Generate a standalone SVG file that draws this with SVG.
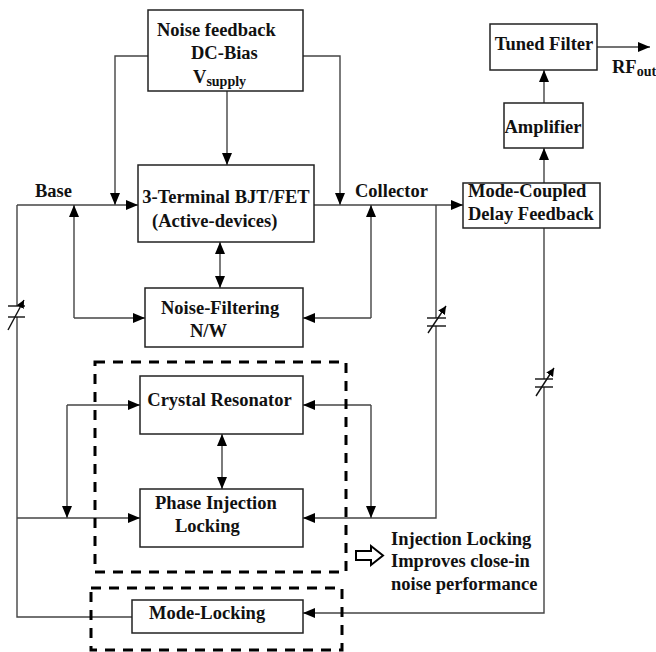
<svg xmlns="http://www.w3.org/2000/svg" width="656" height="652" viewBox="0 0 656 652">
<defs>
<marker id="ah" markerUnits="userSpaceOnUse" markerWidth="13" markerHeight="11" refX="12" refY="5" orient="auto">
<path d="M0,0 L12,5 L0,10 z" fill="#000"/>
</marker>
<marker id="ahs" markerUnits="userSpaceOnUse" markerWidth="13" markerHeight="11" refX="0" refY="5" orient="auto">
<path d="M12,0 L0,5 L12,10 z" fill="#000"/>
</marker>
<marker id="small" markerUnits="userSpaceOnUse" markerWidth="10" markerHeight="9" refX="8" refY="4" orient="auto">
<path d="M0,0 L8,4 L0,8 z" fill="#000"/>
</marker>
</defs>
<style>
.box{fill:#fff;stroke:#222;stroke-width:1.5}
.t{font-family:"Liberation Serif","Times New Roman",serif;font-weight:bold;font-size:18.5px;fill:#111}
.sub{font-size:14px}
.c{fill:none;stroke:#444;stroke-width:1.4}
.plate{stroke:#111;stroke-width:1.4}
.dash{fill:none;stroke:#000;stroke-width:3;stroke-dasharray:10 8}
</style>
<rect width="656" height="652" fill="#fff"/>

<g id="connectors">
<path class="c" d="M148,56 H115 V205" marker-end="url(#ah)"/>
<path class="c" d="M227,91 V165" marker-end="url(#ah)"/>
<path class="c" d="M303,56 H340 V205" marker-end="url(#ah)"/>
<path class="c" d="M17,205 H138" marker-end="url(#ah)"/>
<path class="c" d="M74,318 V205" marker-end="url(#ah)"/>
<path class="c" d="M74,318 H145" marker-end="url(#ah)"/>
<path class="c" d="M220,242 V288" marker-start="url(#ahs)" marker-end="url(#ah)"/>
<path class="c" d="M314,205 H463" marker-end="url(#ah)"/>
<path class="c" d="M371,318 V205" marker-end="url(#ah)"/>
<path class="c" d="M371,318 H303" marker-end="url(#ah)"/>
<path class="c" d="M436,205 V318"/>
<path class="c" d="M436,326 V518 H303" marker-end="url(#ah)"/>
<path class="c" d="M67,405 H140" marker-end="url(#ah)"/>
<path class="c" d="M67,405 V518" marker-end="url(#ah)"/>
<path class="c" d="M17,205 V306"/>
<path class="c" d="M17,317 V617 H132"/>
<path class="c" d="M17,518 H140" marker-end="url(#ah)"/>
<path class="c" d="M371,405 H303" marker-end="url(#ah)"/>
<path class="c" d="M371,405 V518" marker-end="url(#ah)"/>
<path class="c" d="M222,434 V489" marker-start="url(#ahs)" marker-end="url(#ah)"/>
<path class="c" d="M544,228 V379"/>
<path class="c" d="M544,387 V613 H303" marker-end="url(#ah)"/>
<path class="c" d="M544,183 V148" marker-end="url(#ah)"/>
<path class="c" d="M544,103 V70" marker-end="url(#ah)"/>
<path class="c" d="M597,47 H650" marker-end="url(#ah)"/>
</g>

<g id="capacitors">
<line class="plate" x1="8" y1="306" x2="25" y2="306"/>
<line class="plate" x1="8" y1="317" x2="25" y2="317"/>
<line class="plate" x1="8" y1="330" x2="24" y2="300" marker-end="url(#small)"/>
<line class="plate" x1="427" y1="318" x2="446" y2="318"/>
<line class="plate" x1="427" y1="326" x2="446" y2="326"/>
<line class="plate" x1="428" y1="333" x2="446" y2="306" marker-end="url(#small)"/>
<line class="plate" x1="535" y1="379" x2="553" y2="379"/>
<line class="plate" x1="535" y1="387" x2="553" y2="387"/>
<line class="plate" x1="536" y1="396" x2="554" y2="368" marker-end="url(#small)"/>
</g>

<g id="groups">
<rect class="dash" x="95" y="362" width="251" height="210"/>
<rect class="dash" x="91" y="588" width="251" height="62"/>
</g>

<g id="noise-feedback">
<rect class="box" x="148" y="10" width="155" height="81"/>
<text class="t" x="157" y="36">Noise feedback</text>
<text class="t" x="191" y="59">DC-Bias</text>
<text class="t" x="193" y="83">V<tspan class="sub" dy="3">supply</tspan></text>
</g>

<g id="bjt">
<rect class="box" x="138" y="165" width="176" height="77"/>
<text class="t" x="226" y="203" text-anchor="middle">3-Terminal BJT/FET</text>
<text class="t" x="152" y="227">(Active-devices)</text>
</g>

<g id="noise-filtering">
<rect class="box" x="145" y="288" width="158" height="59"/>
<text class="t" x="161" y="314">Noise-Filtering</text>
<text class="t" x="190" y="337">N/W</text>
</g>

<g id="crystal">
<rect class="box" x="140" y="376" width="163" height="58"/>
<text class="t" x="219.5" y="406" text-anchor="middle">Crystal Resonator</text>
</g>

<g id="phase-injection">
<rect class="box" x="140" y="489" width="163" height="58"/>
<text class="t" x="155" y="509">Phase Injection</text>
<text class="t" x="175" y="532">Locking</text>
</g>

<g id="mode-locking">
<rect class="box" x="132" y="600" width="171" height="33"/>
<text class="t" x="149" y="619">Mode-Locking</text>
</g>

<g id="mode-coupled">
<rect class="box" x="463" y="183" width="137" height="45"/>
<text class="t" x="468" y="197">Mode-Coupled</text>
<text class="t" x="468" y="220">Delay Feedback</text>
</g>

<g id="amplifier">
<rect class="box" x="504" y="103" width="79" height="45"/>
<text class="t" x="543" y="133" text-anchor="middle">Amplifier</text>
</g>

<g id="tuned-filter">
<rect class="box" x="490" y="24" width="107" height="46"/>
<text class="t" x="544" y="50" text-anchor="middle">Tuned Filter</text>
</g>

<g id="labels">
<text class="t" x="35" y="197">Base</text>
<text class="t" x="355" y="197">Collector</text>
<text class="t" x="612" y="73">RF<tspan class="sub" dy="3">out</tspan></text>
</g>

<g id="note">
<polygon points="356,551 371,551 371,546 383,555.5 371,565 371,560 356,560" fill="#fff" stroke="#000" stroke-width="2"/>
<text class="t" x="391" y="545">Injection Locking</text>
<text class="t" x="391" y="567">Improves close-in</text>
<text class="t" x="391" y="590">noise performance</text>
</g>
</svg>
